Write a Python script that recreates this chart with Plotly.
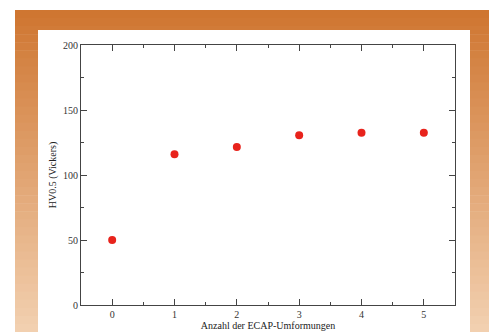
import plotly.graph_objects as go

umformungen = [0, 1, 2, 3, 4, 5]
haerte = [50, 116, 121.5, 130.5, 132.5, 132.5]

W, H = 493, 332
fig = go.Figure()
fig.add_trace(go.Scatter(x=umformungen, y=haerte, mode="markers",
                         marker=dict(color="#e8231c", size=8, line=dict(width=0)),
                         showlegend=False, cliponaxis=False))

ml, mr, mt, mb = 81, W - 455, 45, H - 305
pw, ph = W - ml - mr, H - mt - mb


def px(x):
    return (x - ml) / pw


def py(y):
    return (H - mb - y) / ph


# gradient orange frame
top = (207, 118, 49)
bot = (242, 208, 176)
y0, y1 = 10, 332
n = 40
shapes = []
for i in range(n):
    t = i / (n - 1)
    c = tuple(int(round(top[k] + (bot[k] - top[k]) * t)) for k in range(3))
    ya = y0 + (y1 - y0) * i / n
    yb = y0 + (y1 - y0) * (i + 1) / n + 0.6
    shapes.append(dict(type="rect", xref="paper", yref="paper", layer="below",
                       x0=px(15), x1=px(489), y0=py(yb), y1=py(ya),
                       line=dict(width=0), fillcolor="rgb(%d,%d,%d)" % c))
shapes.append(dict(type="rect", xref="paper", yref="paper", layer="below",
                   x0=px(38), x1=px(470), y0=py(340), y1=py(30),
                   line=dict(width=0), fillcolor="white"))
fig.update_layout(shapes=shapes)

tickfont = dict(family="Liberation Serif, Times New Roman, serif", size=10, color="#333333")
titlefont = dict(family="Liberation Serif, Times New Roman, serif", size=10, color="#222222")
fig.update_xaxes(range=[-0.5, 5.5], tickvals=[0, 1, 2, 3, 4, 5], ticks="inside", ticklen=6,
                 tickcolor="#444", tickwidth=1, mirror="ticks", showline=True, linecolor="#444",
                 linewidth=1, showgrid=False, zeroline=False, tickfont=tickfont,
                 minor=dict(dtick=0.5, ticks="inside", ticklen=3, tickcolor="#444", showgrid=False),
                 title=dict(text="Anzahl der ECAP-Umformungen", font=titlefont, standoff=0))
fig.update_yaxes(range=[0, 200], tickvals=[0, 50, 100, 150, 200], ticks="inside", ticklen=6,
                 tickcolor="#444", tickwidth=1, mirror="ticks", showline=True, linecolor="#444",
                 linewidth=1, showgrid=False, zeroline=False, tickfont=tickfont,
                 minor=dict(dtick=25, ticks="inside", ticklen=3, tickcolor="#444", showgrid=False),
                 title=dict(text="HV0.5 (Vickers)", font=titlefont, standoff=4))

fig.update_layout(width=W, height=H, margin=dict(l=ml, r=mr, t=mt, b=mb, autoexpand=False),
                  paper_bgcolor="white", plot_bgcolor="white")
fig.write_html("out.html", config={"displayModeBar": False},
               post_script="document.body.style.margin='0';document.body.style.overflow='hidden';")
